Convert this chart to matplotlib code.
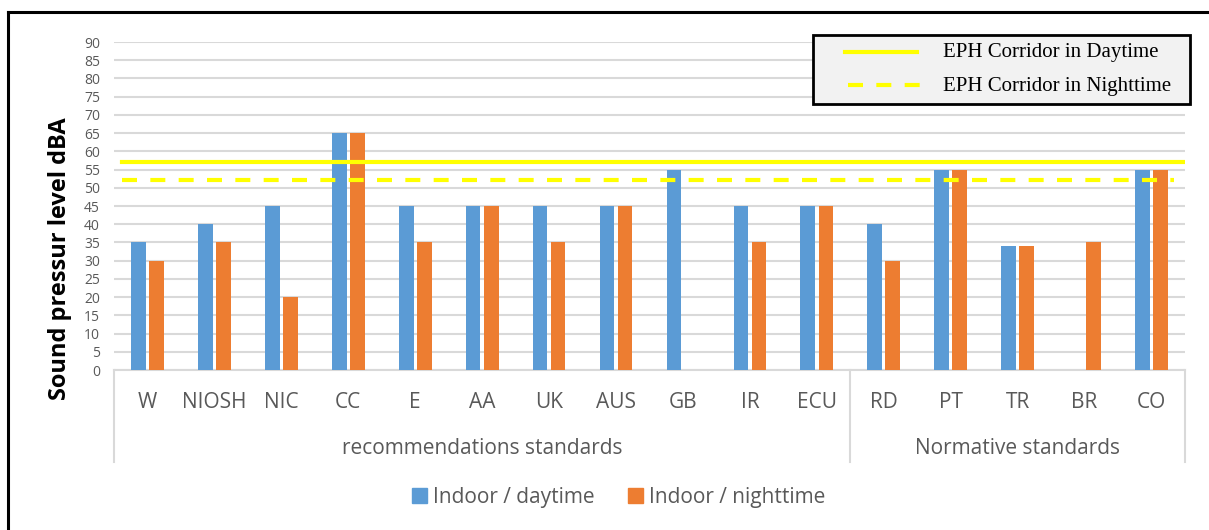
import matplotlib
matplotlib.use('Agg')
import matplotlib.pyplot as plt
from matplotlib.patches import Patch, Rectangle
from matplotlib.lines import Line2D
import numpy as np

# ==========================================
# data
# ==========================================
categories = ["W", "NIOSH", "NIC", "CC", "E", "AA", "UK", "AUS", "GB", "IR", "ECU",
              "RD", "PT", "TR", "BR", "CO"]
daytime = [35, 40, 45, 65, 45, 45, 45, 45, 55, 45, 45, 40, 55, 34, 0, 55]
nighttime = [30, 35, 20, 65, 35, 45, 35, 45, 0, 35, 45, 30, 55, 34, 35, 55]
groups = ["recommendations standards", "Normative standards"]
group_sizes = [11, 5]
eph_day = 57
eph_night = 52
yticks = list(range(0, 95, 5))

BLUE = '#5B9BD5'
ORANGE = '#ED7D31'
GRID = '#D9D9D9'
TXT = '#595959'
FONT = 'Open Sans'

plt.rcParams['font.family'] = [FONT, 'DejaVu Sans']

fig = plt.figure(figsize=(12.09, 5.30), dpi=100)
ax = fig.add_axes([114/1209, 1 - 370/530, (1185-114)/1209, (370-42)/530])

x = np.arange(len(categories))
w = 0.22
ax.bar(x - 0.135, daytime, w, color=BLUE, zorder=3)
ax.bar(x + 0.135, nighttime, w, color=ORANGE, zorder=3)

# EPH corridor lines
ax.axhline(eph_day, xmin=0.0075, xmax=0.998, color='#FFFF00', lw=3, zorder=4)
ax.axhline(eph_night, xmin=0.0075, xmax=0.99, color='#FFFF00', lw=3,
           dashes=(3.6, 3.2), zorder=4)

ax.set_xlim(-0.5, len(categories) - 0.5)
ax.set_ylim(0, 90)
ax.set_yticks(yticks)
ax.yaxis.grid(True, color=GRID, lw=1.5, zorder=0)
ax.set_axisbelow(True)
for s in ['top', 'right', 'left']:
    ax.spines[s].set_visible(False)
ax.spines['bottom'].set_color(GRID)
ax.spines['bottom'].set_linewidth(1.5)
ax.tick_params(axis='y', length=0, pad=10, labelsize=10, labelcolor=TXT)
ax.set_xticks([])

# category labels + group labels
trans = ax.get_xaxis_transform()
for i, c in enumerate(categories):
    ax.text(i, -(403 - 370) / 328, c, transform=trans, ha='center', va='center',
            fontsize=15, color=TXT)

start = -0.5
sep_bottom = -(462 - 370) / 328
ax.plot([start, start], [0, sep_bottom], transform=trans, color=GRID, lw=1.5, clip_on=False)
for g, n in zip(groups, group_sizes):
    end = start + n
    ax.text((start + end) / 2, -(448 - 370) / 328, g, transform=trans, ha='center',
            va='center', fontsize=15, color=TXT)
    ax.plot([end, end], [0, sep_bottom], transform=trans, color=GRID, lw=1.5, clip_on=False)
    start = end

ax.set_ylabel("Sound pressur level dBA", fontsize=17, fontweight='bold', color='black')
ax.yaxis.label.set_va('center')
ax.yaxis.set_label_coords(-54/1071, (370 - 259) / 328)

# bottom legend
handles = [Patch(color=BLUE, label='Indoor / daytime'),
           Patch(color=ORANGE, label='Indoor / nighttime')]
fig.legend(handles=handles, loc='center', bbox_to_anchor=(619/1209, 1 - 497/530), ncol=2,
           frameon=False, fontsize=15, labelcolor=TXT, handlelength=0.7,
           handleheight=0.7, handletextpad=0.3, columnspacing=1.6)

# EPH legend box (serif)
fig.add_artist(Rectangle((813/1209, 1 - 104/530), 377/1209, 69/530, transform=fig.transFigure,
                         facecolor='#F2F2F2', edgecolor='black', lw=2, zorder=5))
fig.add_artist(Line2D([845/1209, 917/1209], [1 - 52/530] * 2, transform=fig.transFigure,
                      color='#FFFF00', lw=3, zorder=6))
fig.add_artist(Line2D([848/1209, 920/1209], [1 - 85/530] * 2, transform=fig.transFigure,
                      color='#FFFF00', lw=3, dashes=(3.6, 3.2), zorder=6))
fig.text(943/1209, 1 - 53/530, "EPH Corridor in Daytime", family=['Liberation Serif'],
         fontsize=15, va='center', ha='left', zorder=7)
fig.text(943/1209, 1 - 86/530, "EPH Corridor in Nighttime", family=['Liberation Serif'],
         fontsize=15, va='center', ha='left', zorder=7)

# outer frame (left and top)
fig.add_artist(Line2D([8/1209, 8/1209], [0, 1 - 12/530], transform=fig.transFigure,
                      color='black', lw=2.2))
fig.add_artist(Line2D([8/1209, 1], [1 - 12/530, 1 - 12/530], transform=fig.transFigure,
                      color='black', lw=2.2))

fig.savefig("out.png", dpi=100)
